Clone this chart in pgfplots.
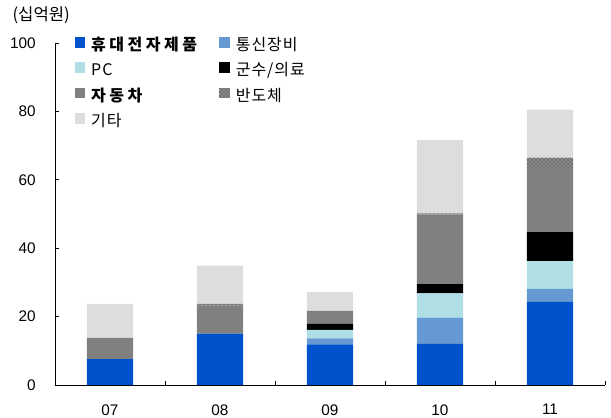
\documentclass[border=0pt]{standalone}
\usepackage{pgfplots}
\pgfplotsset{compat=1.18}
\usepackage{pgfplotstable}
\usetikzlibrary{patterns}
\usepackage{fontspec}
\setmainfont{Liberation Sans}
\newfontfamily\kr{Noto Sans CJK KR}[LetterSpace=6]
\newfontfamily\krt{Noto Sans CJK KR}
\newfontfamily\krb{Noto Sans CJK KR}[LetterSpace=22]

\definecolor{cMobile}{RGB}{0,82,204}
\definecolor{cTel}{RGB}{102,153,212}
\definecolor{cPC}{RGB}{176,224,230}
\definecolor{cAuto}{RGB}{128,128,128}
\definecolor{cOther}{RGB}{221,221,221}
\definecolor{cSemi}{RGB}{110,110,110}

% 십억원, 연도별 누적
\pgfplotstableread{
x mobile tel pc mil auto semi other
0 7.6  0   0   0   6.2  0   9.9
1 15.0 0   0   0   8.2  0.5 11.2
2 11.9 1.7 2.5 1.8 3.8  0   5.5
3 12.0 7.7 7.1 2.7 20.4 0.3 21.4
4 24.3 3.8 8.1 8.5 19.3 2.5 14.0
}\data

\begin{document}
\begin{tikzpicture}
\path[use as bounding box] (-41.25pt,-24.75pt) rectangle (417pt,288.75pt);
\begin{axis}[
    at={(0,0)}, anchor=south west,
    scale only axis, width=412.5pt, height=256.5pt,
    ybar stacked, bar width=0.42,
    xmin=-0.5, xmax=4.5, ymin=0, ymax=100,
    axis x line=bottom, axis y line=left,
    axis line style={-, black, line width=0.6pt},
    tick align=inside, major tick length=3pt,
    tick style={black, line width=0.6pt},
    xtick={0.5,1.5,2.5,3.5,4.5}, xticklabels={,,,,},
    extra x ticks={0,1,2,3,4},
    extra x tick labels={07,08,09,10,11},
    extra x tick style={major tick length=0pt, xticklabel style={yshift=-11pt}},
    ytick={0,20,40,60,80,100},
    yticklabel style={xshift=-11pt},
    ticklabel style={font=\fontsize{11.5}{13}\selectfont},
    /pgf/number format/assume math mode=true,
    legend columns=2,
    legend cell align=left,
    legend style={at={(rel axis cs:0.035,1.02)}, anchor=north west,
        draw=none, fill=none, inner sep=0pt,
        font=\kr\fontsize{12}{14}\selectfont,
        nodes={inner sep=1pt, text height=9.5pt, text depth=2.5pt},
        row sep=5pt,
        /tikz/every odd column/.append style={column sep=3.5pt}},
    legend image code/.code={\fill[#1] (0pt,-1.5pt) rectangle (8pt,6.5pt);},
]
\addplot[fill=cMobile, draw=none] table[x=x, y=mobile] {\data};
\addlegendentry{\makebox[95pt][l]{\krb\bfseries 휴대전자제품}}
\addplot[fill=cTel, draw=none] table[x=x, y=tel] {\data};
\addlegendentry{통신장비}
\addplot[fill=cPC, draw=none] table[x=x, y=pc] {\data};
\addlegendentry{\makebox[95pt][l]{PC}}
\addplot[fill=black, draw=none] table[x=x, y=mil] {\data};
\addlegendentry{군수/의료}
\addplot[fill=cAuto, draw=none] table[x=x, y=auto] {\data};
\addlegendentry{\makebox[95pt][l]{\krb\bfseries 자동차}}
\addplot[fill=cSemi, draw=none, postaction={pattern=crosshatch dots, pattern color=white}] table[x=x, y=semi] {\data};
\addlegendentry{반도체}
\addplot[fill=cOther, draw=none] table[x=x, y=other] {\data};
\addlegendentry{\makebox[95pt][l]{기타}}
\end{axis}
\node[anchor=west, font=\krt\fontsize{12.5}{14}\selectfont, inner sep=0pt] at (-32pt,277.5pt) {(십억원)};
\end{tikzpicture}
\end{document}
